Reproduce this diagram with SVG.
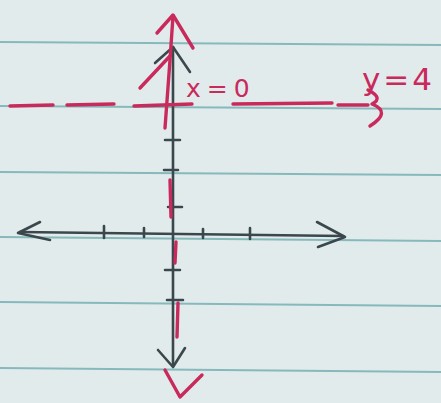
<svg xmlns="http://www.w3.org/2000/svg" width="441" height="403" viewBox="0 0 441 403">
<defs>
<style>
.rule{stroke:#86b9bb;stroke-width:2;fill:none}
.ax{stroke:#3a474c;stroke-width:2.6;fill:none;stroke-linecap:round;stroke-linejoin:round}
.red{stroke:#c92a5c;stroke-width:3.4;fill:none;stroke-linecap:round;stroke-linejoin:round}
.lbl{fill:#c92a5c;font-family:"DejaVu Sans","Liberation Sans",sans-serif}
</style>
</defs>
<rect width="441" height="403" fill="#e2ebec"/>
<g id="paper-rules">
<path class="rule" d="M0 42 L441 45"/>
<path class="rule" d="M0 106 L441 109"/>
<path class="rule" d="M0 172 L441 175"/>
<path class="rule" d="M0 237 L441 241"/>
<path class="rule" d="M0 302 L441 306"/>
<path class="rule" d="M0 368 L441 372"/>
</g>
<g id="connectors">
<g id="x-axis">
<path class="ax" d="M20 232 L343 236"/>
<path class="ax" d="M40 222 L18 233 L50 240"/>
<path class="ax" d="M317 222 L345 237 L318 247"/>
<path class="ax" d="M104 226 L104 238 M144 228 L144 237 M203 229 L203 238 M250 228 L250 239"/>
</g>
<g id="y-axis">
<path class="ax" d="M173 47 L173 366"/>
<path class="ax" d="M155 63 L173 47 L190 72"/>
<path class="ax" d="M158 350 L173 367 L185 348"/>
<path class="ax" d="M165 140 L180 140 M164 170 L178 170 M168 207 L182 207 M165 270 L180 270 M167 300 L183 300"/>
</g>
<g id="line-x0">
<path class="red" d="M165 128 L170 60 L173 16"/>
<path class="red" d="M157 33 L173 15 L193 48"/>
<path class="red" d="M140 88 L170 56"/>
<path class="red" d="M170 180 L171 217 M176 242 L175 263 M178 303 L177 337"/>
<path class="red" d="M165 370 L180 397 L202 375"/>
</g>
<g id="line-y4">
<path class="red" d="M10 106 L53 105 M67 105 L114 104 M134 106 L192 104 M233 104 L332 103 M338 105 L368 105"/>
<path class="red" d="M368 90 Q384 98 372 104 Q392 112 370 126"/>
</g>
</g>
<g id="label-x0">
<text class="lbl" x="186" y="97" font-size="25" letter-spacing="6">x=0</text>
</g>
<g id="label-y4">
<text class="lbl" x="362" y="90" font-size="31" letter-spacing="3">y=4</text>
</g>
</svg>
